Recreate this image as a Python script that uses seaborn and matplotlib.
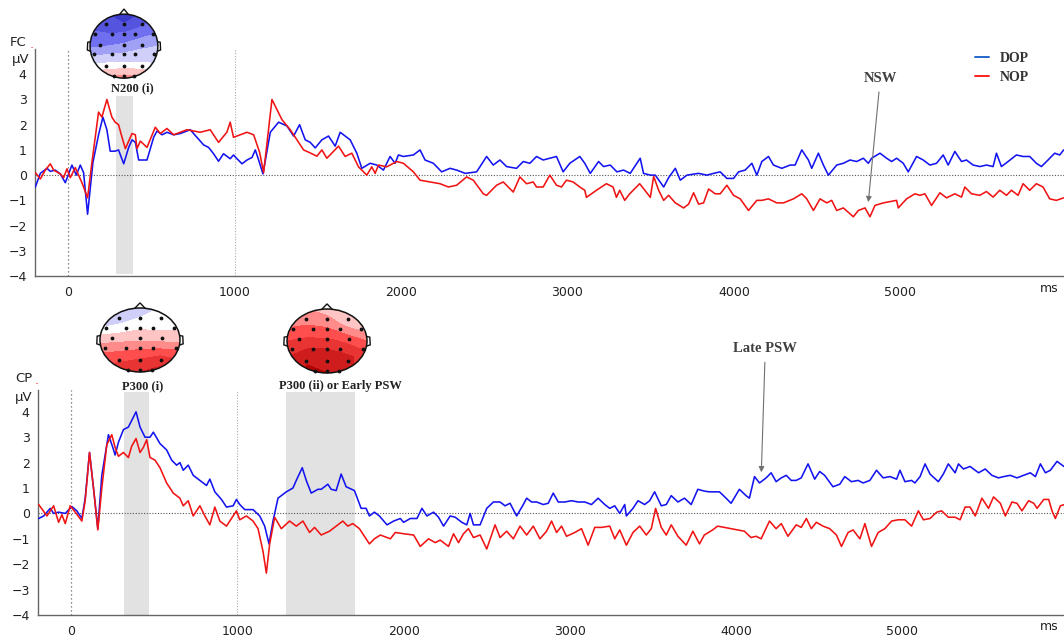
import numpy as np
import pandas as pd
import matplotlib
matplotlib.use("Agg")
import matplotlib.pyplot as plt
import seaborn as sns
from matplotlib.colors import LinearSegmentedColormap
from matplotlib.patches import Circle, Polygon
from matplotlib.lines import Line2D
from matplotlib.ticker import MultipleLocator

# Grand-average waveforms: (time in ms, amplitude in uV)
fc_dop = [
    (-198, -0.47), (-168, 0.07), (-128, 0.27), (-108, 0.15), (-78, 0.2), (-48, 0.05), (-18, -0.3), (22, 0.4), (48, 0.0), (72, 0.4),
    (92, 0.1), (116, -1.55), (148, 0.5), (182, 1.6), (208, 2.3), (232, 1.8), (252, 0.95), (282, 0.95), (302, 1.0), (333, 0.45),
    (363, 1.1), (383, 1.4), (403, 1.3), (423, 0.6), (473, 0.6), (513, 1.5), (533, 1.75), (563, 1.6), (593, 1.7), (633, 1.6),
    (673, 1.65), (733, 1.8), (773, 1.5), (813, 1.2), (843, 1.1), (873, 0.85), (903, 0.55), (933, 0.85), (973, 0.65), (993, 0.8),
    (1014, 0.65), (1044, 0.45), (1074, 0.6), (1104, 0.7), (1124, 1.0), (1144, 0.6), (1170, 0.05),
    (1214, 1.7), (1264, 2.1), (1314, 1.95), (1354, 1.55), (1390, 2.0), (1424, 1.4), (1454, 1.3), (1484, 1.08), (1524, 1.4), (1564, 1.55),
    (1604, 1.15), (1634, 1.7), (1694, 1.4), (1734, 0.87), (1764, 0.27), (1814, 0.47), (1854, 0.4), (1894, 0.2), (1934, 0.74), (1964, 0.47),
    (1984, 0.8), (2014, 0.74), (2074, 0.8), (2114, 1.0), (2144, 0.6), (2194, 0.47), (2244, 0.13), (2294, 0.27), (2334, 0.2), (2386, 0.07),
    (2454, 0.13), (2514, 0.74), (2554, 0.4), (2594, 0.6), (2634, 0.34), (2694, 0.27), (2734, 0.54), (2774, 0.47), (2814, 0.74), (2854, 0.6),
    (2894, 0.67), (2934, 0.74), (2974, 0.13), (3014, 0.47), (3074, 0.74), (3104, 0.47), (3137, 0.07), (3187, 0.54), (3217, 0.34), (3257, 0.4),
    (3297, 0.13), (3337, 0.2), (3377, 0.07), (3437, 0.67), (3457, 0.07), (3498, 0.0),
    (3528, 0.0), (3578, -0.47), (3608, -0.1), (3648, 0.27), (3678, -0.2), (3718, 0.0), (3788, 0.07), (3838, 0.0), (3878, 0.07), (3918, 0.13),
    (3958, -0.13), (3998, -0.13), (4028, 0.13), (4068, 0.2), (4108, 0.47), (4138, 0.0), (4168, 0.54), (4208, 0.74), (4238, 0.4), (4288, 0.27),
    (4338, 0.4), (4368, 0.4), (4408, 1.0), (4448, 0.6), (4468, 0.27), (4508, 0.87), (4538, 0.4), (4568, 0.0), (4618, 0.4), (4658, 0.47),
    (4698, 0.6), (4738, 0.54), (4778, 0.67), (4808, 0.47), (4828, 0.67), (4878, 0.87), (4918, 0.67), (4948, 0.54), (4978, 0.67), (5018, 0.47),
    (5048, 0.13), (5098, 0.74), (5138, 0.6), (5178, 0.4), (5218, 0.47), (5258, 0.8), (5288, 0.4), (5328, 0.94), (5368, 0.54), (5398, 0.6),
    (5438, 0.4), (5478, 0.34), (5518, 0.4), (5558, 0.34), (5578, 0.87), (5608, 0.34), (5648, 0.54), (5698, 0.8), (5738, 0.74), (5778, 0.74),
    (5818, 0.47), (5848, 0.34), (5888, 0.6), (5928, 0.87), (5958, 0.8), (5982, 1.0),
]

fc_nop = [
    (-198, 0.1), (-168, -0.15), (-138, 0.2), (-108, 0.45), (-88, 0.2), (-48, 0.05), (-28, -0.1), (-8, 0.25), (12, -0.1), (42, 0.3),
    (82, -0.3), (116, -0.9), (142, 0.5), (182, 2.5), (202, 2.3), (232, 3.0), (262, 2.3), (282, 2.1), (302, 2.0), (323, 1.5),
    (343, 1.05), (383, 1.65), (403, 1.6), (413, 1.05), (433, 1.35), (473, 1.1), (523, 1.9), (553, 1.65), (593, 1.85), (633, 1.6),
    (713, 1.8), (793, 1.7), (853, 1.8), (903, 1.3), (953, 1.7), (973, 2.1), (993, 1.5), (1034, 1.6), (1074, 1.7), (1114, 1.6),
    (1150, 0.9), (1174, 0.1),
    (1224, 3.0), (1254, 2.6), (1284, 2.2), (1334, 1.8), (1374, 1.4), (1414, 1.0), (1454, 0.88), (1494, 0.75), (1524, 1.0), (1554, 0.67),
    (1624, 1.15), (1664, 0.74), (1704, 0.87), (1744, 0.33), (1794, 0.0), (1824, 0.33), (1844, 0.07), (1864, 0.4), (1914, 0.33), (1974, 0.54),
    (2014, 0.47), (2074, 0.13), (2114, -0.2), (2174, -0.27), (2234, -0.34), (2284, -0.47), (2334, -0.4), (2394, -0.07), (2434, -0.2), (2494, -0.74),
    (2514, -0.8), (2574, -0.4), (2614, -0.27), (2674, -0.67), (2714, -0.07), (2754, -0.34), (2794, -0.27), (2814, -0.47), (2854, -0.47), (2894, 0.0),
    (2934, -0.4), (2964, -0.47), (2994, -0.2), (3034, -0.27), (3074, -0.47), (3104, -0.6), (3114, -0.88), (3174, -0.6), (3234, -0.34), (3274, -0.47),
    (3294, -0.88), (3314, -0.6), (3344, -1.0), (3374, -0.74), (3434, -0.34), (3498, -0.88),
    (3518, -0.05), (3548, -0.6), (3578, -1.0), (3608, -0.8), (3648, -1.1), (3698, -1.3), (3728, -1.15), (3758, -0.7), (3788, -1.15), (3818, -1.1),
    (3848, -0.55), (3888, -0.74), (3918, -0.74), (3958, -0.4), (3998, -0.8), (4038, -0.94), (4088, -1.4), (4138, -1.0), (4168, -1.0), (4208, -0.94),
    (4258, -1.1), (4298, -1.1), (4358, -0.94), (4408, -0.74), (4438, -0.94), (4478, -1.4), (4518, -0.94), (4558, -1.1), (4588, -1.0), (4618, -1.4),
    (4658, -1.3), (4718, -1.65), (4748, -1.4), (4788, -1.3), (4818, -1.65), (4848, -1.2), (4898, -1.1), (4978, -1.0), (4988, -1.3), (5038, -0.94),
    (5088, -0.74), (5118, -0.8), (5148, -0.74), (5188, -1.2), (5238, -0.7), (5278, -0.9), (5328, -0.74), (5368, -0.87), (5388, -0.47), (5428, -0.74),
    (5478, -0.8), (5518, -0.65), (5558, -0.87), (5598, -0.6), (5638, -0.8), (5668, -0.6), (5708, -0.8), (5738, -0.34), (5778, -0.6), (5818, -0.34),
    (5858, -0.47), (5898, -0.94), (5938, -1.0), (5982, -0.9),
]

cp_dop = [
    (-196, -0.2), (-166, -0.1), (-126, 0.2), (-106, 0.0), (-76, 0.05), (-36, 0.0), (4, 0.27), (34, 0.1), (64, -0.2), (84, 0.6),
    (110, 2.4), (134, 1.0), (160, -0.6), (184, 1.5), (224, 3.1), (250, 2.6), (264, 2.3), (284, 2.8), (314, 3.3), (344, 3.4),
    (390, 4.0), (414, 3.4), (444, 3.0), (474, 3.0), (494, 3.2), (534, 2.75), (574, 2.5), (604, 2.1), (634, 1.9), (654, 2.0),
    (674, 1.7), (704, 1.9), (734, 1.5), (774, 1.3), (814, 1.1), (834, 1.35), (864, 0.85), (904, 0.55), (934, 0.25), (974, 0.3),
    (994, 0.55), (1014, 0.35), (1044, 0.15), (1094, 0.15), (1134, -0.1), (1164, -0.5), (1190, -1.2), (1214, -0.3), (1244, 0.6), (1294, 0.85),
    (1334, 1.0), (1354, 1.3), (1390, 1.8), (1414, 1.3), (1444, 0.8), (1484, 0.95), (1504, 0.95), (1544, 1.15), (1564, 0.95), (1594, 0.9),
    (1624, 1.55), (1654, 1.05), (1704, 0.9), (1744, 0.2), (1774, 0.2), (1794, -0.1), (1824, 0.05), (1854, -0.1),
    (1900, -0.45), (1940, -0.3), (1980, -0.2), (2000, -0.35), (2040, -0.2), (2080, -0.2), (2110, 0.2), (2140, -0.1), (2180, 0.05), (2210, -0.15),
    (2240, -0.5), (2280, -0.1), (2310, -0.15), (2350, -0.35), (2380, -0.45), (2400, 0.0), (2420, -0.45), (2460, -0.45), (2500, 0.2), (2540, 0.45),
    (2580, 0.45), (2610, 0.3), (2640, 0.4), (2680, -0.1), (2720, 0.35), (2740, 0.6), (2770, 0.45), (2800, 0.45), (2840, 0.35), (2870, 0.4),
    (2900, 0.8), (2930, 0.45), (2970, 0.45), (3010, 0.5), (3050, 0.45), (3090, 0.45), (3130, 0.35), (3170, 0.6), (3210, 0.35), (3240, 0.2),
    (3270, 0.3), (3300, 0.0), (3330, 0.35), (3340, -0.1), (3380, 0.2), (3410, 0.5), (3450, 0.35), (3480, 0.5), (3510, 0.85), (3550, 0.3),
    (3580, 0.35), (3610, 0.7), (3650, 0.45), (3690, 0.6), (3730, 0.35), (3770, 0.95),
    (3809, 0.88), (3839, 0.85), (3900, 0.85), (3940, 0.6), (3970, 0.4), (4020, 0.95), (4060, 0.7), (4080, 0.6), (4111, 1.45), (4141, 1.2),
    (4181, 1.4), (4211, 1.6), (4241, 1.25), (4272, 1.4), (4302, 1.5), (4332, 1.3), (4362, 1.3), (4392, 1.4), (4433, 1.95), (4473, 1.35),
    (4503, 1.65), (4533, 1.5), (4583, 1.05), (4624, 1.15), (4654, 1.45), (4694, 1.25), (4734, 1.3), (4765, 1.2), (4805, 1.3), (4845, 1.7),
    (4885, 1.4), (4926, 1.45), (4966, 1.35), (4986, 1.7), (5016, 1.25), (5056, 1.3), (5076, 1.2), (5107, 1.45), (5137, 1.95), (5167, 1.55),
    (5217, 1.25), (5247, 1.55), (5277, 1.95), (5318, 1.6), (5338, 1.95), (5368, 1.75), (5408, 1.85), (5459, 1.6), (5499, 1.75), (5539, 1.5),
    (5579, 1.4), (5610, 1.45), (5650, 1.5), (5690, 1.4), (5730, 1.5), (5770, 1.6), (5801, 1.45), (5831, 1.95), (5861, 1.6), (5891, 1.7),
    (5931, 2.05), (5972, 1.85),
]

cp_nop = [
    (-196, 0.35), (-146, -0.1), (-106, 0.3), (-76, -0.35), (-56, -0.05), (-36, -0.4), (-6, 0.3), (24, 0.05), (64, -0.3), (84, 0.5),
    (110, 2.4), (134, 1.0), (160, -0.65), (184, 1.0), (214, 2.7), (244, 3.1), (264, 2.6), (284, 2.25), (314, 2.4), (344, 2.2),
    (364, 2.65), (390, 2.95), (414, 2.4), (434, 2.6), (454, 2.9), (474, 2.2), (504, 2.1), (534, 1.8), (574, 1.2), (614, 0.8),
    (654, 0.6), (674, 0.3), (704, 0.5), (734, -0.1), (774, 0.3), (804, -0.1), (834, -0.45), (864, 0.25), (894, -0.3), (934, -0.5),
    (974, -0.1), (994, 0.1), (1014, -0.25), (1054, -0.1), (1094, -0.3), (1124, -0.6), (1154, -1.5), (1174, -2.35), (1194, -1.2), (1224, -0.15),
    (1264, -0.6), (1314, -0.3), (1354, -0.5), (1394, -0.3), (1434, -0.75), (1464, -0.55), (1504, -0.85), (1554, -0.7), (1594, -0.5), (1634, -0.3),
    (1664, -0.5), (1694, -0.4), (1734, -0.6), (1794, -1.2), (1824, -1.0),
    (1860, -0.85), (1920, -1.0), (1950, -0.75), (2000, -0.8), (2060, -0.85), (2100, -1.3), (2150, -1.0), (2190, -1.15), (2220, -1.05), (2270, -1.3),
    (2300, -0.8), (2330, -1.15), (2360, -0.8), (2390, -0.6), (2420, -0.95), (2460, -0.85), (2500, -1.4), (2550, -0.45), (2580, -0.95), (2620, -0.7),
    (2660, -1.0), (2700, -0.5), (2740, -0.85), (2780, -0.5), (2820, -1.0), (2860, -0.7), (2890, -0.3), (2920, -0.75), (2950, -0.5), (2980, -0.9),
    (3030, -0.75), (3070, -0.6), (3110, -1.25), (3150, -0.55), (3190, -0.55), (3240, -0.5), (3270, -1.0), (3300, -0.65), (3340, -1.25), (3380, -0.75),
    (3420, -0.5), (3460, -0.85), (3490, -0.6), (3516, 0.2), (3550, -0.55), (3580, -0.85), (3610, -0.45), (3650, -0.9), (3700, -1.25), (3740, -0.7),
    (3780, -1.2),
    (3809, -0.85), (3859, -0.65), (3889, -0.5), (3930, -0.55), (3970, -0.6), (4010, -0.65), (4050, -0.7), (4090, -0.95), (4121, -0.9), (4151, -1.0),
    (4201, -0.3), (4241, -0.6), (4272, -0.4), (4312, -0.9), (4362, -0.45), (4392, -0.55), (4423, -0.2), (4453, -0.6), (4483, -0.35), (4523, -0.5),
    (4563, -0.6), (4604, -0.85), (4634, -1.3), (4674, -0.75), (4704, -0.65), (4745, -1.0), (4775, -0.4), (4815, -1.3), (4855, -0.75), (4895, -0.6),
    (4936, -0.3), (4976, -0.25), (5016, -0.25), (5056, -0.5), (5097, 0.1), (5127, -0.25), (5167, -0.2), (5207, 0.05), (5237, 0.1), (5277, -0.15),
    (5318, -0.15), (5348, -0.25), (5378, 0.25), (5408, 0.25), (5439, -0.1), (5479, 0.6), (5519, 0.2), (5549, 0.65), (5590, 0.4), (5620, -0.1),
    (5660, 0.45), (5690, 0.4), (5720, 0.1), (5760, 0.5), (5791, 0.4), (5811, 0.2), (5851, 0.55), (5881, 0.55), (5901, 0.1), (5921, -0.2),
    (5951, 0.3), (5976, 0.35),
]

# Analysis windows (ms)
fc_windows = [(288, 388)]
cp_windows = [(320, 466), (1294, 1710)]

# Scalp maps: 5x5 grid of amplitudes, front row first, left to right
n200_map = [
    [-3.0, -3.6, -4.4, -3.6, -3.0],
    [-2.8, -3.0, -3.0, -2.6, -2.2],
    [-2.2, -2.0, -1.8, -1.4, -1.2],
    [-0.6, -0.5, -0.4, -0.4, -0.6],
    [1.2, 1.4, 1.6, 1.4, 1.2],
]
p300_map = [
    [-2.0, -1.6, -1.0, -0.4, 0.0],
    [-0.8, -0.4, 0.0, 0.0, 0.0],
    [0.9, 1.0, 1.1, 1.0, 0.9],
    [2.2, 2.4, 2.6, 2.8, 2.6],
    [3.2, 3.4, 3.6, 4.0, 3.4],
]
psw_map = [
    [1.0, 1.2, 0.8, 0.2, 0.0],
    [1.8, 2.0, 1.8, 1.0, 0.4],
    [2.8, 3.0, 3.0, 2.6, 2.0],
    [3.6, 4.2, 4.2, 3.8, 3.2],
    [3.6, 4.6, 4.4, 3.8, 3.2],
]

# Electrode layout on the unit head
elec_x = [-0.52, 0, 0.52, -0.86, -0.36, 0, 0.33, 0.86, -0.7, 0, 0.54,
          -0.88, -0.36, 0, 0.33, 0.9, -0.53, 0, 0.52, -0.3, 0, 0.3]
elec_y = [0.7] * 3 + [0.38] * 5 + [0.05] * 3 + [-0.26] * 5 + [-0.62] * 3 + [-0.94] * 3

blue = "#1414f0"
red = "#f01414"

sns.set_style("white")
plt.rcParams["font.family"] = ["DejaVu Sans"]

fig = plt.figure(figsize = (10.64, 6.36), dpi = 100)
ax_fc = fig.add_axes([0.0329, 0.5660, 0.9671, 0.3569])
ax_cp = fig.add_axes([0.0357, 0.0330, 0.9643, 0.3538])


# Draw one ERP panel
def draw_panel(ax, dop, nop, windows, xlim, ylim, win_lo, win_hi):

    for lo, hi in windows:
        ax.fill_between([lo, hi], win_lo, win_hi, color = "#e2e2e2", lw = 0, zorder = 0)

    ax.axhline(0, color = "#555555", lw = 0.8, ls = (0, (1, 1.5)), zorder = 1)
    ax.axvline(0, color = "#666666", lw = 0.9, ls = (0, (1, 2.2)), zorder = 1)
    ax.axvline(1000, color = "#aaaaaa", lw = 0.8, ls = (0, (1, 1.5)), zorder = 1)

    for series, col in [(dop, blue), (nop, red)]:
        df = pd.DataFrame(series, columns = ["ms", "uv"])
        sns.lineplot(data = df, x = "ms", y = "uv", ax = ax, color = col, lw = 1.15,
                     estimator = None, sort = False, zorder = 3)

    ax.set_xlim(*xlim)
    ax.set_ylim(*ylim)
    ax.set_xlabel("")
    ax.set_ylabel("")
    ax.set_xticks(range(0, 6000, 1000))
    ax.xaxis.set_minor_locator(MultipleLocator(200))
    ax.set_yticks(range(-4, 5))
    ax.yaxis.set_minor_locator(MultipleLocator(0.2))
    ax.tick_params(which = "both", direction = "out", colors = "#555555", labelcolor = "#222222",
                   labelsize = 9, width = 0.8)
    ax.tick_params(which = "major", length = 4, pad = 2)
    ax.tick_params(which = "minor", length = 2.5)
    ax.tick_params(axis = "x", pad = 3)

    sns.despine(ax = ax)
    for side in ["left", "bottom"]:
        ax.spines[side].set_color("#666666")
        ax.spines[side].set_linewidth(1.0)
    ax.patch.set_alpha(0)


draw_panel(ax_fc, fc_dop, fc_nop, fc_windows, (-200, 5984), (-4, 5.0), -3.9, 3.12)
draw_panel(ax_cp, cp_dop, cp_nop, cp_windows, (-200, 5973), (-4, 4.86), -4.0, 4.8)

# Scalp map colours
topo_cmap = LinearSegmentedColormap.from_list(
    "topo", ["#1c1cb4", "#6a6aee", "#ffffff", "#ff4848", "#b00000"])
topo_levels = np.arange(-4.4, 4.5, 0.8)


# Draw a head with a banded scalp map
def draw_topo(rect, grid):
    tax = fig.add_axes(rect)
    tax.set_xlim(-1.18, 1.18)
    tax.set_ylim(-1.12, 1.2)
    tax.axis("off")

    g = np.linspace(-1, 1, 5)
    cs = tax.contourf(g, g[::-1], np.array(grid), levels = topo_levels, cmap = topo_cmap,
                      vmin = -5, vmax = 5, extend = "both")
    head = Circle((0, 0), 1, transform = tax.transData)
    cs.set_clip_path(head)

    tax.add_patch(Circle((0, 0), 1, fill = False, ec = "#111111", lw = 1.1))
    tax.add_patch(Polygon([(-0.13, 0.99), (0, 1.16), (0.13, 0.99)], closed = False,
                          fill = False, ec = "#111111", lw = 1.0))
    for s in [-1, 1]:
        tax.add_patch(Polygon([(s * 0.99, 0.14), (s * 1.07, 0.12), (s * 1.08, -0.12), (s * 0.99, -0.16)],
                              closed = False, fill = False, ec = "#111111", lw = 1.0))
    tax.scatter(elec_x, elec_y, s = 3, color = "#111111", zorder = 5)


draw_topo([0.0789, 0.8711, 0.0752, 0.1167], n200_map)
draw_topo([0.0872, 0.4091, 0.0887, 0.1167], p300_map)
draw_topo([0.2630, 0.4075, 0.0887, 0.1167], psw_map)

serif = dict(family = "Liberation Serif", weight = "bold")
fig.text(132 / 1064, 1 - 88 / 636, "N200 (i)", ha = "center", va = "center", size = 9, color = "#222222", **serif)
fig.text(143 / 1064, 1 - 386 / 636, "P300 (i)", ha = "center", va = "center", size = 9, color = "#222222", **serif)
fig.text(340 / 1064, 1 - 386 / 636, "P300 (ii) or Early PSW", ha = "center", va = "center", size = 9,
         color = "#222222", **serif)

# Component annotations
ax_fc.annotate("NSW", xy = (4808, -1.07), xytext = (4880, 3.85), ha = "center", va = "center",
               size = 10.5, color = "#404040", fontfamily = "Liberation Serif", fontweight = "bold",
               arrowprops = dict(arrowstyle = "-|>", color = "#707070", lw = 0.8, mutation_scale = 8,
                                 shrinkA = 3, shrinkB = 0))
ax_cp.annotate("Late PSW", xy = (4152, 1.62), xytext = (4176, 6.5), ha = "center", va = "center",
               size = 10.5, color = "#404040", fontfamily = "Liberation Serif", fontweight = "bold",
               annotation_clip = False,
               arrowprops = dict(arrowstyle = "-|>", color = "#707070", lw = 0.8, mutation_scale = 8,
                                 shrinkA = 3, shrinkB = 0))

# Legend
handles = [Line2D([], [], color = "#2266cc", lw = 1.4, label = "DOP"),
           Line2D([], [], color = "#ff2020", lw = 1.4, label = "NOP")]
ax_fc.legend(handles = handles, loc = "upper left", bbox_to_anchor = (975 / 1064, 1 - 52 / 636),
             bbox_transform = fig.transFigure, frameon = False, labelcolor = "#333333",
             prop = dict(family = "Liberation Serif", weight = "bold", size = 10),
             handlelength = 1.0, handletextpad = 0.8, labelspacing = 0.45, borderpad = 0, borderaxespad = 0)

# Channel and unit labels
fig.text(10 / 1064, 1 - 42 / 636, "FC", ha = "left", va = "center", size = 9.5, color = "#222222")
fig.text(30 / 1064, 1 - 44 / 636, ".", ha = "left", va = "center", size = 9.5, color = "#ff4040")
fig.text(12 / 1064, 1 - 59 / 636, "µV", ha = "left", va = "center", size = 9.5, color = "#222222")
fig.text(15 / 1064, 1 - 379 / 636, "CP", ha = "left", va = "center", size = 9.5, color = "#222222")
fig.text(35 / 1064, 1 - 381 / 636, ".", ha = "left", va = "center", size = 9.5, color = "#ff4040")
fig.text(15 / 1064, 1 - 397 / 636, "µV", ha = "left", va = "center", size = 9.5, color = "#222222")
fig.text(1040 / 1064, 1 - 288 / 636, "ms", ha = "left", va = "center", size = 9, color = "#222222")
fig.text(1040 / 1064, 1 - 627 / 636, "ms", ha = "left", va = "center", size = 9, color = "#222222")

fig.savefig("out.png", dpi = 100)
